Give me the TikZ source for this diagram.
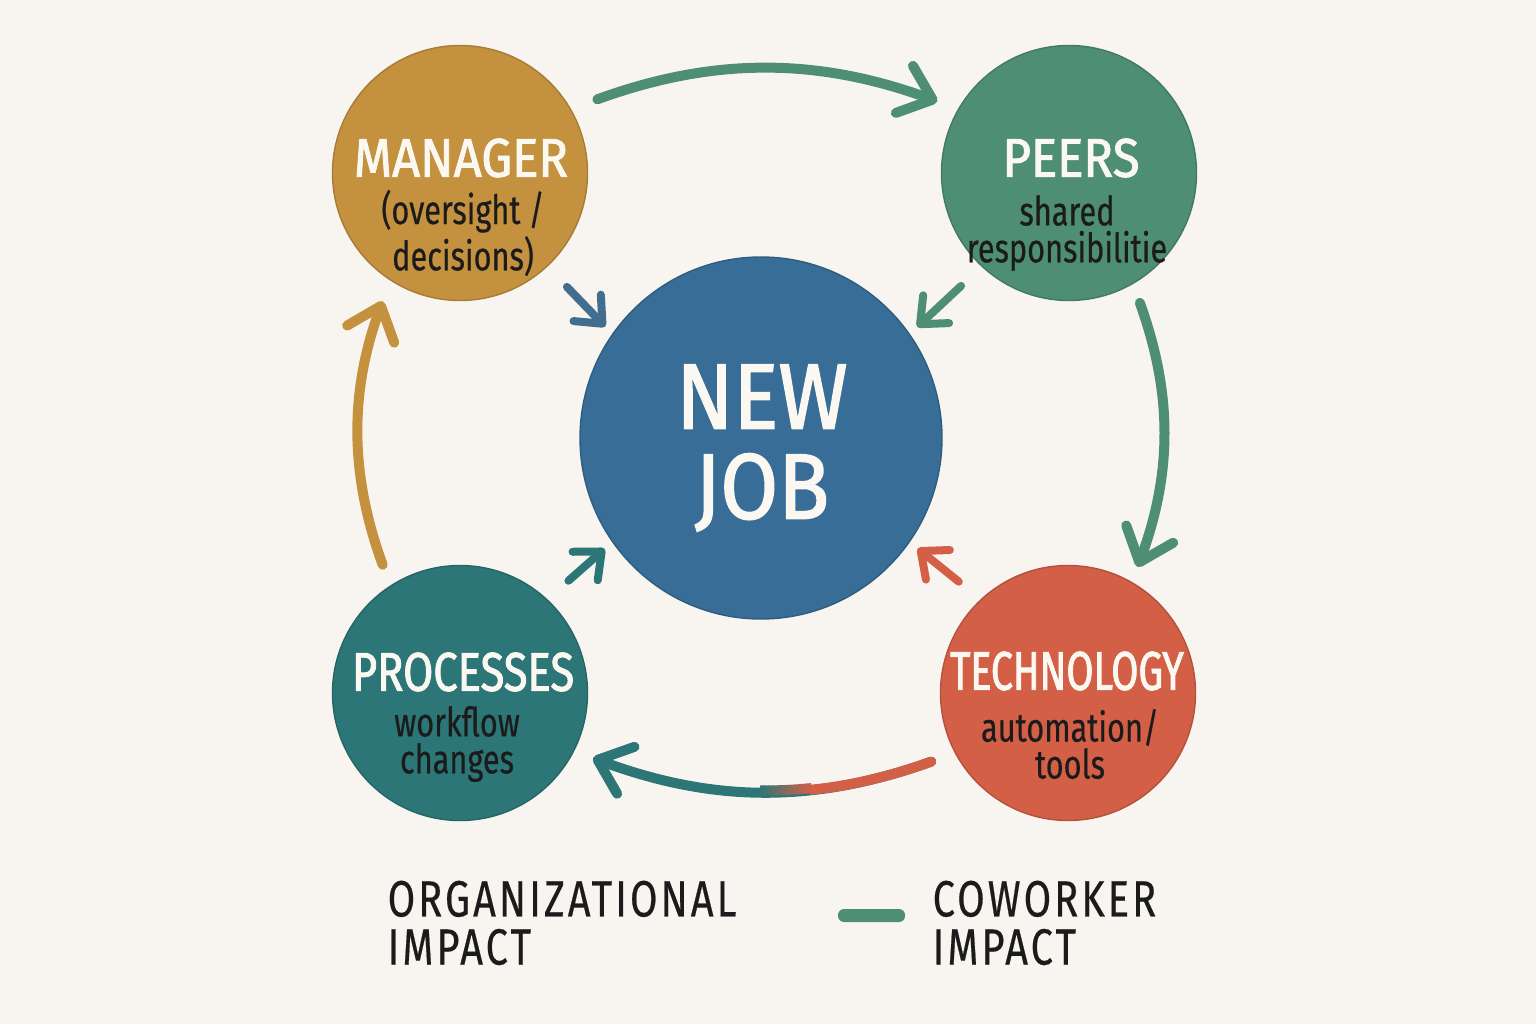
\documentclass[tikz,border=0pt]{standalone}
\usepackage{fontspec}
\setmainfont{Fira Sans}
\newfontfamily\headfont{Fira Sans}[FakeStretch=0.9,FakeBold=1.6]
\newfontfamily\narrowhead{Fira Sans}[FakeStretch=0.8,FakeBold=1.6]
\newfontfamily\techfont{Fira Sans}[FakeStretch=0.72,FakeBold=1.6]
\newfontfamily\subfont{Fira Sans}[FakeStretch=0.76,FakeBold=0.4]
\newfontfamily\keyfont{Fira Sans}[FakeStretch=0.78,LetterSpace=6,FakeBold=0.4]
\usetikzlibrary{arrows.meta}
\definecolor{paper}{HTML}{F8F5F0}
\definecolor{ochre}{HTML}{C4913F}
\definecolor{sage}{HTML}{4E8E74}
\definecolor{jobblue}{HTML}{376D96}
\definecolor{tealc}{HTML}{2D7678}
\definecolor{brick}{HTML}{D35F46}
\definecolor{slate}{HTML}{416D8F}
\definecolor{ink}{HTML}{1B1B1B}
\definecolor{chalk}{HTML}{FBF8F2}
\begin{document}
\begin{tikzpicture}[
  roundnode/.style={circle, inner sep=0pt, minimum size=2.55cm, draw=#1!85!black, line width=0.4pt, fill=#1},
  headtext/.style={text=chalk, font=\headfont\fontsize{15.5}{16}\selectfont},
  subtext/.style={text=ink, align=center, font=\subfont\fontsize{11.5}{10.5}\selectfont},
  keytext/.style={text=ink, align=left, inner sep=0pt, anchor=north west, font=\keyfont\fontsize{14.5}{13.7}\selectfont},
  cyclearrow/.style={draw=#1, line width=0.1cm, line cap=round, -{Straight Barb[length=0.3cm,width=0.5cm,round]}},
  feedarrow/.style={draw=#1, line width=0.08cm, line cap=round, -{Straight Barb[length=0.22cm,width=0.38cm,round]}, shorten <=0.28cm, shorten >=0.1cm},
]
\fill [paper] (0,0) rectangle (15.36,10.24);

\node [roundnode=ochre] (manager) at (4.60,8.51) {};
\node [roundnode=sage] (peers) at (10.69,8.51) {};
\node [roundnode=tealc] (processes) at (4.60,3.31) {};
\node [roundnode=brick] (tech) at (10.68,3.31) {};
\node [roundnode=jobblue, minimum size=3.62cm] (newjob) at (7.61,5.86) {};

\node [headtext] (managerhead) at (4.61,8.66) {MANAGER};
\node [subtext] (managersub) at (4.63,7.91) {(oversight /\\decisions)};
\node [headtext] (peershead) at (10.71,8.66) {PEERS};
\node [subtext] (peerssub) at (10.67,7.91) {shared\\responsibilitie};
\node [headtext, font=\narrowhead\fontsize{15.5}{16}\selectfont] (processeshead) at (4.63,3.52) {PROCESSES};
\node [subtext] (processessub) at (4.57,2.80) {workflow\\changes};
\node [headtext, font=\techfont\fontsize{15.5}{16}\selectfont] (techhead) at (10.67,3.53) {TECHNOLOGY};
\node [subtext] (techsub) at (10.70,2.80) {automation/\\tools};
\node [headtext, align=center, font=\headfont\fontsize{26.5}{25.6}\selectfont] (newjobtext) at (7.62,5.76) {NEW\\JOB};

\draw [cyclearrow=sage, shorten <=0.28cm, shorten >=0.22cm] (manager.30) to [bend left=20] (peers.150);
\draw [cyclearrow=sage, shorten <=0.2cm, shorten >=0.16cm] (peers.-60) to [bend left=20] (tech.60);
\draw [cyclearrow=tealc, shorten <=0.25cm, shorten >=0.2cm] (tech.208) to [bend left=20] (processes.-27);
\begin{scope}
\clip (8.1,1.8) rectangle (9.8,3.2);
\draw [cyclearrow=brick, -, shorten <=0.25cm] (tech.208) to [bend left=20] (processes.-27);
\end{scope}
\foreach \s in {0,...,11} {
  \pgfmathtruncatemacro\mixpct{8*\s+6}
  \begin{scope}
  \clip (7.6+0.042*\s,1.8) rectangle ++(0.05,1.4);
  \draw [cyclearrow=brick!\mixpct!tealc, -] (tech.208) to [bend left=20] (processes.-27);
  \end{scope}
}
\draw [cyclearrow=ochre, shorten <=0.22cm, shorten >=0.22cm] (processes.123) to [bend left=20] (manager.-123);

\draw [feedarrow=slate] (manager.-47) -- (newjob.145);
\draw [feedarrow=sage] (peers.-133) -- (newjob.35);
\draw [feedarrow=tealc] (processes.47) -- (newjob.-145);
\draw [feedarrow=brick] (tech.133) -- (newjob.-35);

\node [keytext] (orgkey) at (3.87,1.44) {ORGANIZATIONAL\\IMPACT};
\node [fill=sage, rounded corners=0.06cm, minimum width=0.67cm, minimum height=0.13cm, inner sep=0pt] (coworkerswatch) at (8.715,1.085) {};
\node [keytext] (coworkerkey) at (9.32,1.44) {COWORKER\\IMPACT};
\end{tikzpicture}
\end{document}
